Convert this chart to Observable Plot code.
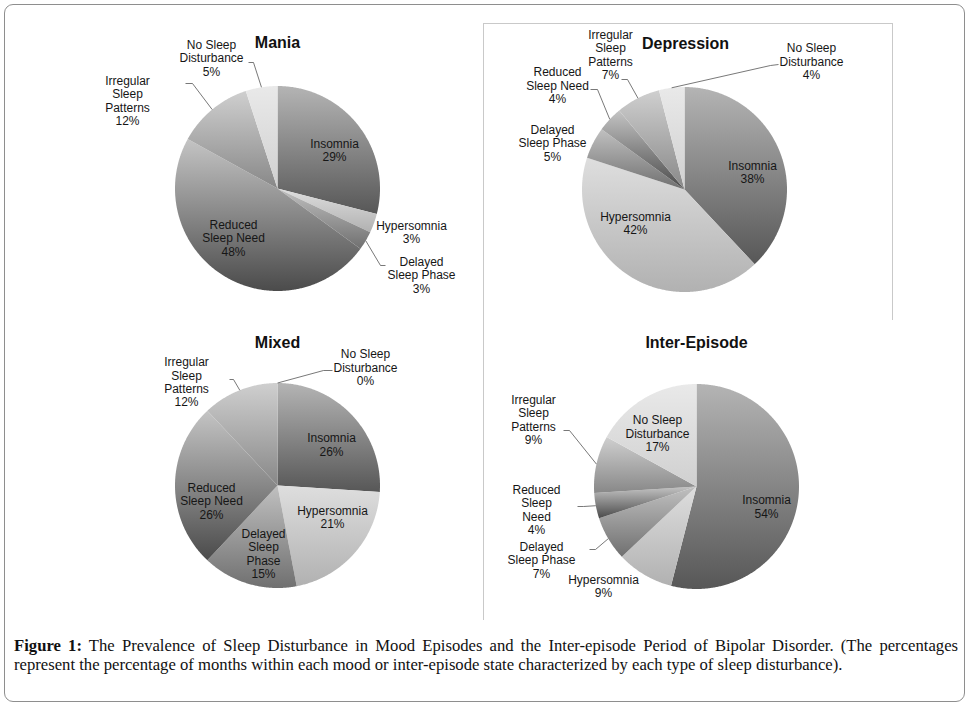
<!DOCTYPE html>
<html><head><meta charset="utf-8">
<script src="https://cdn.jsdelivr.net/npm/d3@7"></script>
<script src="https://cdn.jsdelivr.net/npm/@observablehq/plot@0.6"></script>
<style>
html,body{margin:0;padding:0;background:#fff;}
#fig{position:relative;width:971px;height:709px;overflow:hidden;font-family:"Liberation Sans",Arial,sans-serif;}
.outer{position:absolute;left:4px;top:4px;width:959px;height:696px;border:1.5px solid #8e8e8e;border-radius:9px;box-sizing:content-box;}
.dframe{position:absolute;left:483px;top:23px;width:408px;height:296px;border:1px solid #c9c9c9;border-bottom:none;}
.iline{position:absolute;left:483px;top:319px;width:0;height:301px;border-left:1px solid #c9c9c9;}
.pie{position:absolute;}
#cap{position:absolute;left:14px;top:636px;width:944px;font-family:"Liberation Serif","Times New Roman",serif;color:#111;line-height:19px;}
#cap .l1{text-align:justify;text-align-last:justify;}
#cap .l2{text-align:left;white-space:nowrap;}
</style></head>
<body>
<div id="fig">
  <div class="outer"></div>
  <div class="dframe"></div>
  <div class="iline"></div>
  <div id="cap"><div class="l1"><b>Figure 1:</b> The Prevalence of Sleep Disturbance in Mood Episodes and the Inter-episode Period of Bipolar Disorder. (The percentages</div><div class="l2"><span id="l2s">represent the percentage of months within each mood or inter-episode state characterized by each type of sleep disturbance).</span></div></div>
</div>
<script>
// ---- data ----
const categories = ["Insomnia", "Hypersomnia", "Delayed Sleep Phase", "Reduced Sleep Need", "Irregular Sleep Patterns", "No Sleep Disturbance"];
const episodes = ["Mania", "Depression", "Mixed", "Inter-Episode"];
const maniaValues = [29, 3, 3, 48, 12, 5];
const depressionValues = [38, 42, 5, 4, 7, 4];
const mixedValues = [26, 21, 15, 26, 12, 0];
const interEpisodeValues = [54, 9, 7, 4, 9, 17];
const seriesValues = [maniaValues, depressionValues, mixedValues, interEpisodeValues];

// ---- styles ----
const sliceShades = [
  ["#b4b4b4", "#575757"],
  ["#dedede", "#b1b1b1"],
  ["#c0c0c0", "#707070"],
  ["#c4c4c4", "#4b4b4b"],
  ["#cfcfcf", "#888888"],
  ["#e9e9e9", "#d0d0d0"]
];
const defaultWrap = ["Insomnia", "Hypersomnia", "Delayed\nSleep Phase", "Reduced\nSleep Need", "Irregular\nSleep\nPatterns", "No Sleep\nDisturbance"];

// ---- layout (pixel offsets from pie centre) ----
const R = 102.5;
const layout = [
  {cx: 277, cy: 188, title: [0, -146],
   labels: [[57, -38.5], [134, 43.5], [144, 86.5], [-44, 49.5], [-150, -88], [-66, -130.5]],
   wrap: {},
   leaders: {2: [[108, 77], [103, 77]], 4: [[-92, -105], [-85, -105]], 5: [[-29, -126], [-24, -126]]}},
  {cx: 684, cy: 189, title: [1, -146],
   labels: [[68, -17.5], [-49, 33.5], [-132, -46.5], [-127, -104], [-74, -135], [127, -128]],
   wrap: {},
   leaders: {3: [[-94, -100], [-87, -100]], 4: [[-63, -110], [-57, -110]], 5: [[94, -125], [86, -124]]}},
  {cx: 277, cy: 485, title: [0, -143],
   labels: [[54, -41], [55, 31.5], [-14, 68], [-66, 15.5], [-91, -103.5], [88, -118]],
   wrap: {2: "Delayed\nSleep\nPhase"},
   leaders: {4: [[-48, -106], [-44, -106]], 5: [[55, -115], [46, -115]]}},
  {cx: 696, cy: 486, title: [0, -144],
   labels: [[70, 20], [-93, 99.5], [-155, 73.5], [-160, 23], [-163, -67], [-39, -53]],
   wrap: {3: "Reduced\nSleep\nNeed"},
   leaders: {2: [[-107, 63], [-101, 63]], 3: [[-119, 20], [-113, 20]], 4: [[-133, -56], [-127, -56]]}}
];

const W = 470, H = 300, TOP = 170, LEFT = 235;
const fig = document.getElementById("fig");

episodes.forEach((name, idx) => {
  const values = seriesValues[idx];
  const L = layout[idx];
  const arcs = d3.pie().sort(null).value(d => d)(values);
  const marks = [];
  arcs.forEach((a, k) => {
    const span = a.endAngle - a.startAngle;
    if (span <= 0) return;
    const n = Math.max(2, Math.ceil(span / (Math.PI / 360)));
    const pts = [{x: 0, y: 0}];
    for (let i = 0; i <= n; i++) {
      const t = a.startAngle + span * i / n;
      pts.push({x: Math.sin(t), y: Math.cos(t)});
    }
    pts.push({x: 0, y: 0});
    marks.push(Plot.line(pts, {x: "x", y: "y", fill: `url(#g${idx}_${k})`, stroke: "none", curve: "linear"}));
  });
  // leader lines
  const leaderPts = [];
  Object.entries(L.leaders).forEach(([k, segs]) => {
    const a = arcs[+k];
    const mid = (a.startAngle + a.endAngle) / 2;
    segs.forEach(([dx, dy]) => leaderPts.push({k: +k, x: dx / R, y: -dy / R}));
    leaderPts.push({k: +k, x: Math.sin(mid), y: Math.cos(mid)});
  });
  marks.push(Plot.line(leaderPts, {x: "x", y: "y", z: "k", stroke: "#555", strokeWidth: 0.8, strokeLinecap: "butt", strokeLinejoin: "miter"}));
  // data labels
  const labels = categories.map((c, k) => ({
    text: (L.wrap[k] || defaultWrap[k]) + "\n" + values[k] + "%",
    x: L.labels[k][0] / R,
    y: -L.labels[k][1] / R
  }));
  marks.push(Plot.text(labels, {x: "x", y: "y", text: "text", fontSize: 12, lineHeight: 1.12, fill: "#161616"}));
  marks.push(Plot.text([{t: name, x: L.title[0] / R, y: -L.title[1] / R}], {x: "x", y: "y", text: "t", fontSize: 16, fontWeight: "bold", fill: "#111"}));

  const svg = Plot.plot({
    width: W, height: H, margin: 0,
    x: {domain: [-LEFT / R, (W - LEFT) / R], axis: null},
    y: {domain: [-(H - TOP) / R, TOP / R], axis: null},
    style: {background: "transparent", fontFamily: "'Liberation Sans', Arial, sans-serif", overflow: "visible"},
    marks
  });
  const defs = d3.select(svg).insert("defs", ":first-child");
  sliceShades.forEach(([top, bot], k) => {
    const g = defs.append("linearGradient").attr("id", `g${idx}_${k}`)
      .attr("x1", 0).attr("y1", 0).attr("x2", 0).attr("y2", 1);
    g.append("stop").attr("offset", 0).attr("stop-color", top);
    g.append("stop").attr("offset", 1).attr("stop-color", bot);
  });
  const wrap = document.createElement("div");
  wrap.className = "pie";
  wrap.style.left = (L.cx - LEFT) + "px";
  wrap.style.top = (L.cy - TOP) + "px";
  wrap.appendChild(svg);
  fig.insertBefore(wrap, document.getElementById("cap"));
});

// fit caption font so the second line spans like the reference
const cap = document.getElementById("cap");
cap.style.fontSize = "16px";
const w2 = document.getElementById("l2s").getBoundingClientRect().width;
cap.style.fontSize = (16 * 829 / w2).toFixed(2) + "px";
</script>
</body></html>
